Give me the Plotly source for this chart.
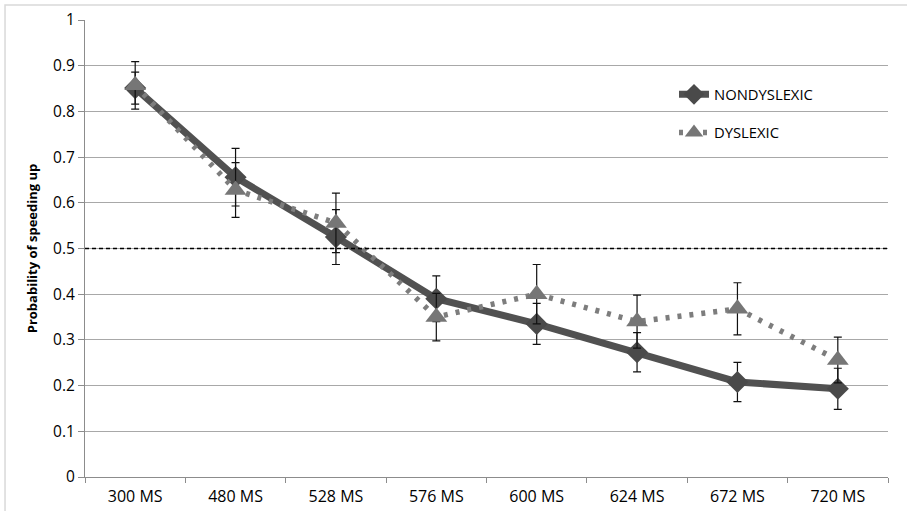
import plotly.graph_objects as go

categories = ["300 MS", "480 MS", "528 MS", "576 MS", "600 MS", "624 MS", "672 MS", "720 MS"]
nondyslexic = [0.851, 0.656, 0.525, 0.390, 0.335, 0.273, 0.208, 0.193]
nondyslexic_err = [0.035, 0.063, 0.060, 0.050, 0.045, 0.043, 0.043, 0.045]
dyslexic = [0.857, 0.628, 0.556, 0.350, 0.400, 0.340, 0.368, 0.256]
dyslexic_err = [0.052, 0.060, 0.065, 0.052, 0.065, 0.058, 0.057, 0.050]
y_ticks = [0, 0.1, 0.2, 0.3, 0.4, 0.5, 0.6, 0.7, 0.8, 0.9, 1]
y_tick_labels = ["0", "0.1", "0.2", "0.3", "0.4", "0.5", "0.6", "0.7", "0.8", "0.9", "1"]
chance_level = 0.5

FONT = "Open Sans"

fig = go.Figure()

fig.add_trace(go.Scatter(
    x=categories, y=nondyslexic, name="NONDYSLEXIC", mode="lines+markers",
    legendgroup="a",
    line=dict(color="#515151", width=7),
    marker=dict(symbol="diamond", size=17, color="#4a4a4a"),
    error_y=dict(type="data", array=nondyslexic_err, visible=True,
                 color="#111111", thickness=1.2, width=4),
))
fig.add_trace(go.Scatter(
    x=categories, y=dyslexic, name="DYSLEXIC", mode="lines+markers",
    legendgroup="b",
    line=dict(color="#7d7d7d", width=5.5, dash="4px,8px"),
    marker=dict(symbol="triangle-up", size=19, color="#767676"),
    error_y=dict(type="data", array=dyslexic_err, visible=True,
                 color="#111111", thickness=1.2, width=4),
))

fig.add_shape(type="line", xref="paper", x0=0, x1=1, yref="y",
              y0=chance_level, y1=chance_level,
              line=dict(color="black", width=1.5, dash="4px,3px"))

# outer chart border
fig.add_shape(type="rect", xref="paper", yref="paper",
              x0=-0.0996, x1=1.03, y0=-0.09, y1=1.0328,
              line=dict(color="#d9d9d9", width=1.5), layer="below")

fig.update_layout(
    width=907, height=511,
    margin=dict(l=85, r=19, t=20, b=34),
    paper_bgcolor="white", plot_bgcolor="white",
    font=dict(family=FONT, size=14, color="black"),
    showlegend=True,
    legend=dict(x=0.7335, y=0.8726, xanchor="left", yanchor="top",
                bgcolor="rgba(0,0,0,0)", tracegroupgap=16,
                font=dict(family=FONT, size=14.8, color="black")),
    xaxis=dict(
        type="category", range=[-0.5, 7.5], automargin=False,
        showline=True, linecolor="#8c8c8c", linewidth=1,
        ticks="outside", tickson="boundaries", ticklen=5, tickcolor="#8c8c8c",
        showgrid=False, tickfont=dict(size=16), ticklabelstandoff=5,
    ),
    yaxis=dict(
        range=[0, 1], tickvals=y_ticks, ticktext=y_tick_labels, automargin=False,
        showline=True, linecolor="#8c8c8c", linewidth=1,
        ticks="outside", ticklen=6, tickcolor="#8c8c8c",
        showgrid=True, gridcolor="#a8a8a8", gridwidth=1,
        zeroline=False, tickfont=dict(size=15.5),
        title=dict(text="<b>Probability of speeding up</b>",
                   font=dict(size=13), standoff=12),
    ),
)

fig.write_html("out.html", config={"displayModeBar": False},
               post_script="document.body.style.margin='0';document.body.style.overflow='hidden';")
